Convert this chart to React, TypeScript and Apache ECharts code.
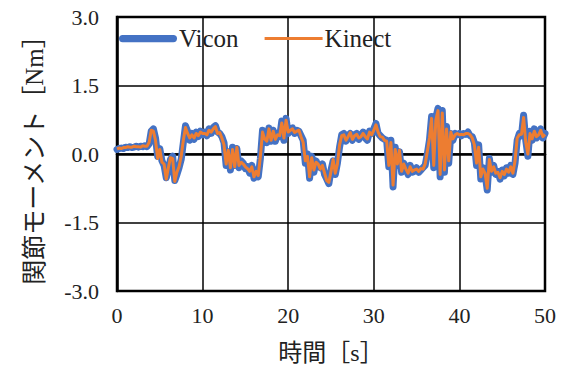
import React, { useEffect, useRef } from "react";
import * as echarts from "echarts";

const seriesNames = ["Vicon", "Kinect"];
const sampleStep = 0.25; // seconds between samples
const xTicks = [0, 10, 20, 30, 40, 50];
const yTicks = [-3.0, -1.5, 0.0, 1.5, 3.0];

const vicon = [
  0.10,0.12,0.13,0.12,0.15,0.14,0.16,0.14,0.15,0.17,
  0.15,0.17,0.16,0.18,0.16,0.22,0.50,0.55,0.35,-0.05,
  0.12,-0.15,-0.25,-0.52,-0.35,-0.12,-0.05,-0.58,-0.45,-0.30,
  -0.12,0.25,0.62,0.50,0.30,0.45,0.32,0.48,0.38,0.50,
  0.42,0.48,0.40,0.55,0.45,0.58,0.62,0.48,0.45,0.38,
  0.25,-0.25,0.05,-0.35,0.15,-0.25,0.12,-0.30,-0.15,-0.20,
  -0.32,-0.28,-0.42,-0.25,-0.53,-0.35,-0.50,-0.10,0.52,0.30,
  0.25,0.57,0.28,0.52,0.28,0.45,0.38,0.72,0.30,0.78,
  0.45,0.55,0.57,0.45,0.52,0.50,0.40,0.30,-0.20,0.00,
  -0.53,-0.05,-0.40,-0.15,-0.25,-0.30,-0.22,-0.45,-0.55,-0.65,
  -0.35,-0.15,-0.45,-0.20,0.15,0.42,0.45,0.28,0.40,0.45,
  0.30,0.42,0.45,0.32,0.40,0.48,0.35,0.30,0.50,0.45,
  0.55,0.67,0.45,0.40,0.35,0.32,0.30,-0.28,0.30,-0.72,
  0.15,-0.25,0.05,-0.40,-0.20,-0.30,-0.45,-0.25,-0.40,-0.38,
  -0.30,-0.40,-0.35,-0.30,-0.25,0.00,0.30,0.82,-0.30,0.80,
  1.00,-0.50,0.95,-0.40,0.60,-0.20,0.45,0.30,0.45,0.42,
  0.45,0.40,0.45,0.43,0.48,0.40,0.38,0.25,-0.25,0.20,
  -0.55,-0.30,-0.45,-0.79,-0.10,-0.40,-0.25,-0.45,-0.38,-0.55,
  -0.35,-0.48,-0.30,-0.42,-0.25,-0.45,-0.20,0.30,0.45,0.40,
  0.85,0.30,-0.05,0.50,0.30,0.55,0.35,0.40,0.55,0.35,
  0.45,
];

const kinect = [
  0.11,0.13,0.12,0.14,0.14,0.16,0.15,0.15,0.17,0.16,
  0.16,0.15,0.18,0.17,0.17,0.25,0.52,0.50,0.30,-0.10,
  0.10,-0.18,-0.22,-0.55,-0.30,-0.08,-0.10,-0.60,-0.40,-0.28,
  -0.05,0.30,0.58,0.45,0.35,0.42,0.35,0.45,0.40,0.48,
  0.45,0.45,0.42,0.52,0.48,0.55,0.60,0.45,0.47,0.35,
  0.20,-0.22,0.08,-0.30,0.10,-0.28,0.15,-0.25,-0.18,-0.22,
  -0.28,-0.32,-0.38,-0.28,-0.50,-0.38,-0.47,-0.05,0.48,0.33,
  0.28,0.55,0.30,0.50,0.32,0.42,0.40,0.68,0.35,0.74,
  0.48,0.52,0.55,0.47,0.50,0.52,0.38,0.25,-0.15,-0.05,
  -0.50,-0.08,-0.35,-0.18,-0.22,-0.33,-0.25,-0.42,-0.58,-0.62,
  -0.38,-0.12,-0.42,-0.22,0.20,0.40,0.42,0.30,0.38,0.47,
  0.32,0.40,0.43,0.35,0.38,0.45,0.38,0.33,0.48,0.42,
  0.52,0.64,0.48,0.38,0.37,0.30,0.28,-0.25,0.25,-0.68,
  0.10,-0.22,0.08,-0.38,-0.22,-0.33,-0.42,-0.28,-0.38,-0.35,
  -0.33,-0.38,-0.32,-0.33,-0.22,0.05,0.35,0.78,-0.25,0.75,
  0.95,-0.45,0.90,-0.35,0.55,-0.15,0.48,0.33,0.42,0.45,
  0.42,0.43,0.42,0.45,0.45,0.42,0.35,0.20,-0.20,0.15,
  -0.50,-0.33,-0.42,-0.75,-0.12,-0.38,-0.28,-0.42,-0.40,-0.52,
  -0.38,-0.45,-0.33,-0.40,-0.28,-0.42,-0.15,0.35,0.42,0.43,
  0.80,0.25,0.00,0.45,0.33,0.50,0.38,0.42,0.52,0.38,
  0.43,
];

const FONT = "'Liberation Serif', 'Noto Sans CJK JP', serif";
const ICON_THICK = "path://M3.5,0 H52.5 A3.5,3.5 0 0 1 52.5,7 H3.5 A3.5,3.5 0 0 1 3.5,0 Z";
const ICON_THIN = "path://M0,0 H52 V2.6 H0 Z";

export default function App() {
  const ref = useRef<HTMLDivElement>(null);
  useEffect(() => {
    if (!ref.current) return;
    const chart = echarts.init(ref.current, undefined, { renderer: "svg" });
    const toPairs = (arr: number[]) => arr.map((v, i) => [i * sampleStep, v]);
    chart.setOption({
      animation: false,
      backgroundColor: "#ffffff",
      grid: {
        left: 117,
        right: 16,
        top: 17,
        bottom: 81,
        show: true,
        borderColor: "#000",
        borderWidth: 2.5,
      },
      legend: {
        left: 119,
        top: 26,
        padding: 0,
        itemWidth: 58,
        itemHeight: 14,
        itemGap: 26,
        symbolKeepAspect: true,
        textStyle: { fontFamily: FONT, fontSize: 25, color: "#222", padding: [0, 0, 0, -3] },
        data: [
          { name: seriesNames[0], icon: ICON_THICK },
          { name: seriesNames[1], icon: ICON_THIN },
        ],
      },
      xAxis: {
        type: "value",
        min: xTicks[0],
        max: xTicks[xTicks.length - 1],
        interval: 10,
        name: "時間［s］",
        nameLocation: "middle",
        nameGap: 50,
        nameTextStyle: { fontFamily: FONT, fontSize: 24, color: "#222" },
        axisLine: { show: true, lineStyle: { color: "#000", width: 2.5 } },
        axisTick: { show: false },
        axisLabel: { fontFamily: FONT, fontSize: 22, color: "#222", margin: 13 },
        splitLine: { show: true, lineStyle: { color: "#000", width: 1.5 } },
      },
      yAxis: {
        type: "value",
        min: yTicks[0],
        max: yTicks[yTicks.length - 1],
        interval: 1.5,
        name: "関節モーメント［Nm］",
        nameLocation: "middle",
        nameGap: 70,
        nameRotate: 90,
        nameTextStyle: { fontFamily: FONT, fontSize: 25, color: "#222" },
        axisLine: { show: true, onZero: false, lineStyle: { color: "#000", width: 2.5 } },
        axisTick: { show: false },
        axisLabel: {
          fontFamily: FONT,
          fontSize: 22,
          color: "#222",
          margin: 18,
          formatter: (v: number) => v.toFixed(1),
        },
        splitLine: { show: true, lineStyle: { color: "#000", width: 1.5 } },
      },
      series: [
        {
          name: seriesNames[0],
          type: "line",
          data: toPairs(vicon),
          showSymbol: false,
          symbol: "none",
          lineStyle: { color: "#4472C4", width: 7, cap: "round", join: "round" },
          itemStyle: { color: "#4472C4" },
          z: 2,
        },
        {
          name: seriesNames[1],
          type: "line",
          data: toPairs(kinect),
          showSymbol: false,
          symbol: "none",
          lineStyle: { color: "#ED7D31", width: 3, join: "round" },
          itemStyle: { color: "#ED7D31" },
          z: 3,
        },
      ],
    });
    return () => chart.dispose();
  }, []);
  return (
    <div
      ref={ref}
      style={{ position: "fixed", left: 0, top: 0, width: 561, height: 372, background: "#fff" }}
    />
  );
}
